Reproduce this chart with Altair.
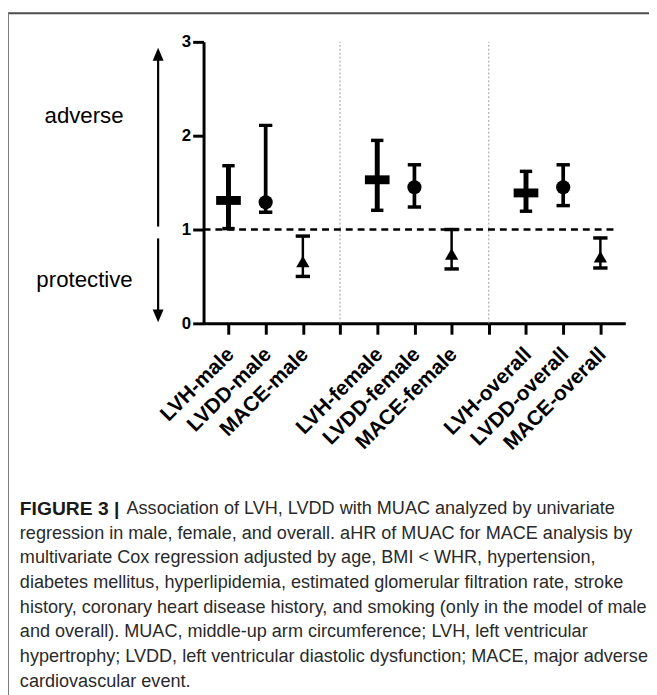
import altair as alt
import pandas as pd

# ---- data ----
positions = [1, 2, 3, 5, 6, 7, 9, 10, 11]
names = ["LVH-male", "LVDD-male", "MACE-male",
         "LVH-female", "LVDD-female", "MACE-female",
         "LVH-overall", "LVDD-overall", "MACE-overall"]
kinds = ["LVH", "LVDD", "MACE"] * 3
estimate = [1.31, 1.29, 0.66, 1.53, 1.45, 0.74, 1.39, 1.45, 0.71]
lower = [1.01, 1.185, 0.50, 1.205, 1.24, 0.58, 1.195, 1.255, 0.59]
upper = [1.68, 2.11, 0.93, 1.95, 1.69, 1.00, 1.62, 1.69, 0.91]

tick_values = list(range(1, 12))
tick_labels = ["LVH-male", "LVDD-male", "MACE-male", "",
               "LVH-female", "LVDD-female", "MACE-female", "",
               "LVH-overall", "LVDD-overall", "MACE-overall"]
y_ticks = [0, 1, 2, 3]
separators = [4, 8]
ref_value = 1
ref_extent = [0.33, 11.48]

caption_bold = "FIGURE 3 |"
caption_first = "Association of LVH, LVDD with MUAC analyzed by univariate"
caption_rest = [
    "regression in male, female, and overall. aHR of MUAC for MACE analysis by",
    "multivariate Cox regression adjusted by age, BMI < WHR, hypertension,",
    "diabetes mellitus, hyperlipidemia, estimated glomerular filtration rate, stroke",
    "history, coronary heart disease history, and smoking (only in the model of male",
    "and overall). MUAC, middle-up arm circumference; LVH, left ventricular",
    "hypertrophy; LVDD, left ventricular diastolic dysfunction; MACE, major adverse",
    "cardiovascular event.",
]

df = pd.DataFrame({"pos": positions, "name": names, "kind": kinds,
                   "est": estimate, "lo": lower, "hi": upper})
df_sep = pd.DataFrame({"x": separators, "y": [0] * len(separators), "y2": [3] * len(separators)})
df_ref = pd.DataFrame({"x": [ref_extent[0]], "x2": [ref_extent[1]], "y": [ref_value]})

FONT = "Liberation Sans"
xs = alt.Scale(domain=[0.33, 11.67], nice=False, zero=False)
ys = alt.Scale(domain=[0, 3], nice=False, zero=False)

label_expr = "[" + ",".join("'" + t + "'" for t in tick_labels) + "][datum.value - 1]"

x_axis = alt.Axis(values=tick_values, labelExpr=label_expr, labelAngle=-45,
                  labelAlign="right", labelBaseline="middle", labelFont=FONT,
                  labelFontWeight="bold", labelFontSize=21, labelColor="black",
                  labelPadding=17, labelOffset=2, labelOverlap=False, labelFlush=False,
                  tickSize=11, tickWidth=3, tickColor="black",
                  domainWidth=3, domainColor="black", grid=False, title=None)
y_axis = alt.Axis(values=y_ticks, format="d", labelFont=FONT, labelFontWeight="bold",
                  labelFontSize=17, labelColor="black", labelPadding=2,
                  tickSize=11, tickWidth=3, tickColor="black",
                  domainWidth=3, domainColor="black", grid=False, title=None)

base = alt.Chart(df)

err = base.mark_rule(color="black").encode(
    x=alt.X("pos:Q", scale=xs, axis=x_axis),
    y=alt.Y("lo:Q", scale=ys, axis=y_axis),
    y2="hi:Q",
    strokeWidth=alt.StrokeWidth("kind:N", scale=alt.Scale(domain=["LVH", "LVDD", "MACE"], range=[5, 2.5, 2.5]), legend=None),
)
cap_size = alt.Size("kind:N", scale=alt.Scale(domain=["LVH", "LVDD", "MACE"], range=[12.5, 14.5, 13.5]), legend=None)
cap_lo = base.mark_tick(orient="horizontal", thickness=3.5, color="black", opacity=1).encode(
    x=alt.X("pos:Q", scale=xs), y=alt.Y("lo:Q", scale=ys), size=cap_size)
cap_hi = base.mark_tick(orient="horizontal", thickness=3.5, color="black", opacity=1).encode(
    x=alt.X("pos:Q", scale=xs), y=alt.Y("hi:Q", scale=ys), size=cap_size)

m_lvh = base.transform_filter(alt.datum.kind == "LVH").mark_tick(
    orient="horizontal", size=25, thickness=9, color="black", opacity=1).encode(
    x=alt.X("pos:Q", scale=xs), y=alt.Y("est:Q", scale=ys))
m_lvdd = base.transform_filter(alt.datum.kind == "LVDD").mark_point(
    shape="circle", filled=True, size=205, color="black", opacity=1).encode(
    x=alt.X("pos:Q", scale=xs), y=alt.Y("est:Q", scale=ys))
m_mace = base.transform_filter(alt.datum.kind == "MACE").mark_point(
    shape="triangle-up", filled=True, size=180, color="black", opacity=1).encode(
    x=alt.X("pos:Q", scale=xs), y=alt.Y("est:Q", scale=ys))

sep = alt.Chart(df_sep).mark_rule(color="#9a9a9a", strokeWidth=1, strokeDash=[2, 2]).encode(
    x=alt.X("x:Q", scale=xs), y=alt.Y("y:Q", scale=ys), y2="y2:Q")
ref = alt.Chart(df_ref).mark_rule(color="black", strokeWidth=2.5, strokeDash=[7, 5]).encode(
    x=alt.X("x:Q", scale=xs), x2="x2:Q", y=alt.Y("y:Q", scale=ys))

# ---- annotations (pixel space relative to plot origin) ----
one = pd.DataFrame({"a": [0]})
ann = alt.Chart(one)
t_adv = ann.mark_text(font=FONT, fontSize=22.5, color="black", align="center", baseline="middle").encode(
    x=alt.value(-121), y=alt.value(75), text=alt.value("adverse"))
t_pro = ann.mark_text(font=FONT, fontSize=22.5, color="black", align="center", baseline="middle").encode(
    x=alt.value(-120.5), y=alt.value(241), text=alt.value("protective"))
up_shaft = ann.mark_rule(color="black", strokeWidth=2.2).encode(
    x=alt.value(-46), y=alt.value(187), y2=alt.value(16))
dn_shaft = ann.mark_rule(color="black", strokeWidth=2.2).encode(
    x=alt.value(-46), y=alt.value(199), y2=alt.value(274))
up_head = ann.mark_point(shape="M0,-1L0.85,1L-0.85,1Z", filled=True, size=169, color="black", opacity=1).encode(
    x=alt.value(-46), y=alt.value(12.5))
dn_head = ann.mark_point(shape="M0,1L0.85,-1L-0.85,-1Z", filled=True, size=169, color="black", opacity=1).encode(
    x=alt.value(-46), y=alt.value(277.5))

# border of the figure panel
top_border = ann.mark_rule(color="#4d4d4d", strokeWidth=2).encode(
    x=alt.value(-198), x2=alt.value(460), y=alt.value(-29))
left_border = ann.mark_rule(color="#7a7a7a", strokeWidth=1).encode(
    x=alt.value(-197.5), y=alt.value(-30), y2=alt.value(700))

# caption
CAP = 18.3
cap_b = ann.mark_text(font=FONT, fontSize=19.5, fontWeight="bold", color="#1a1a1a", align="left", baseline="middle").encode(
    x=alt.value(-186), y=alt.value(473), text=alt.value(caption_bold))
cap_1 = ann.mark_text(font=FONT, fontSize=CAP, color="#2a2a2a", align="left", baseline="middle").encode(
    x=alt.value(-78), y=alt.value(473), text=alt.value(caption_first))
cap_r = ann.mark_text(font=FONT, fontSize=CAP, color="#2a2a2a", align="left", baseline="middle", lineHeight=25).encode(
    x=alt.value(-186), y=alt.value(498), text=alt.value(caption_rest))

chart = alt.layer(
    sep, ref, err, cap_lo, cap_hi, m_lvh, m_lvdd, m_mace,
    t_adv, t_pro, up_shaft, dn_shaft, up_head, dn_head,
    top_border, left_border, cap_b, cap_1, cap_r,
).properties(
    width=427, height=285,
    padding={"left": 198, "top": 30, "right": 24, "bottom": 372},
    autosize=alt.AutoSizeParams(type="none"),
    background="white",
).configure_view(stroke=None)

chart.save("out.html", embed_options={"renderer": "svg", "actions": False})
